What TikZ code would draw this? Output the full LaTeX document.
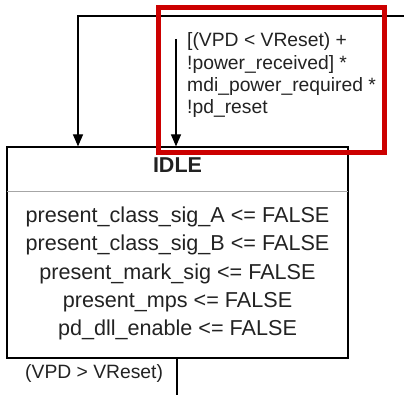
\documentclass[tikz,border=0pt]{standalone}
\usepackage{fontspec}
\setmainfont{Liberation Sans}
\usetikzlibrary{arrows.meta}
\definecolor{txt}{HTML}{222222}
\definecolor{redframe}{HTML}{CC0000}
\begin{document}
\begin{tikzpicture}[x=1pt,y=-1pt,
  conn/.style={line width=1.2pt,draw=black},
  arr/.style={conn,-{Triangle[length=12pt,width=10pt]}},
  lbl/.style={inner sep=0pt,text=txt,font=\fontsize{19.3}{22.4}\selectfont},
  body/.style={inner sep=0pt,text=txt,font=\fontsize{21.6}{28.1}\selectfont}]
\useasboundingbox (0,0) rectangle (404,395);
% state box
\node[draw,line width=1.2pt,minimum width=341pt,minimum height=211pt,inner sep=0pt] (idle) at (177.5,252.5) {};
\node[inner sep=0pt,text=txt,font=\bfseries\fontsize{21.5}{24}\selectfont,anchor=base] (title) at (177.5,173) {IDLE};
\coordinate (sepl) at (7,192);
\coordinate (sepr) at (348,192);
\draw[line width=1pt,draw=gray!70] (sepl) -- (sepr);
\node[body,align=center,anchor=north] (acts) at (177.5,207) {present\_class\_sig\_A <= FALSE\\present\_class\_sig\_B <= FALSE\\present\_mark\_sig <= FALSE\\present\_mps <= FALSE\\pd\_dll\_enable <= FALSE};
% incoming transitions
\coordinate (tr) at (404,16);
\coordinate (tl) at (78,16);
\draw[arr] (tr) -- (tl) -- (tl |- idle.north);
\coordinate (a2) at (176,39);
\draw[arr] (a2) -- (a2 |- idle.north);
\node[lbl,align=left,anchor=north west] (cond) at (187,32.5) {[(VPD < VReset) +\\!power\_received] *\\mdi\_power\_required *\\!pd\_reset};
% outgoing
\coordinate (ob) at (177,395);
\draw[conn] (ob |- idle.south) -- (ob);
\node[lbl,anchor=base west] (out) at (25,378) {(VPD > VReset)};
% red highlight
\draw[redframe,line width=4.5pt] (158.5,7.5) rectangle (384.5,152.5);
\end{tikzpicture}
\end{document}
